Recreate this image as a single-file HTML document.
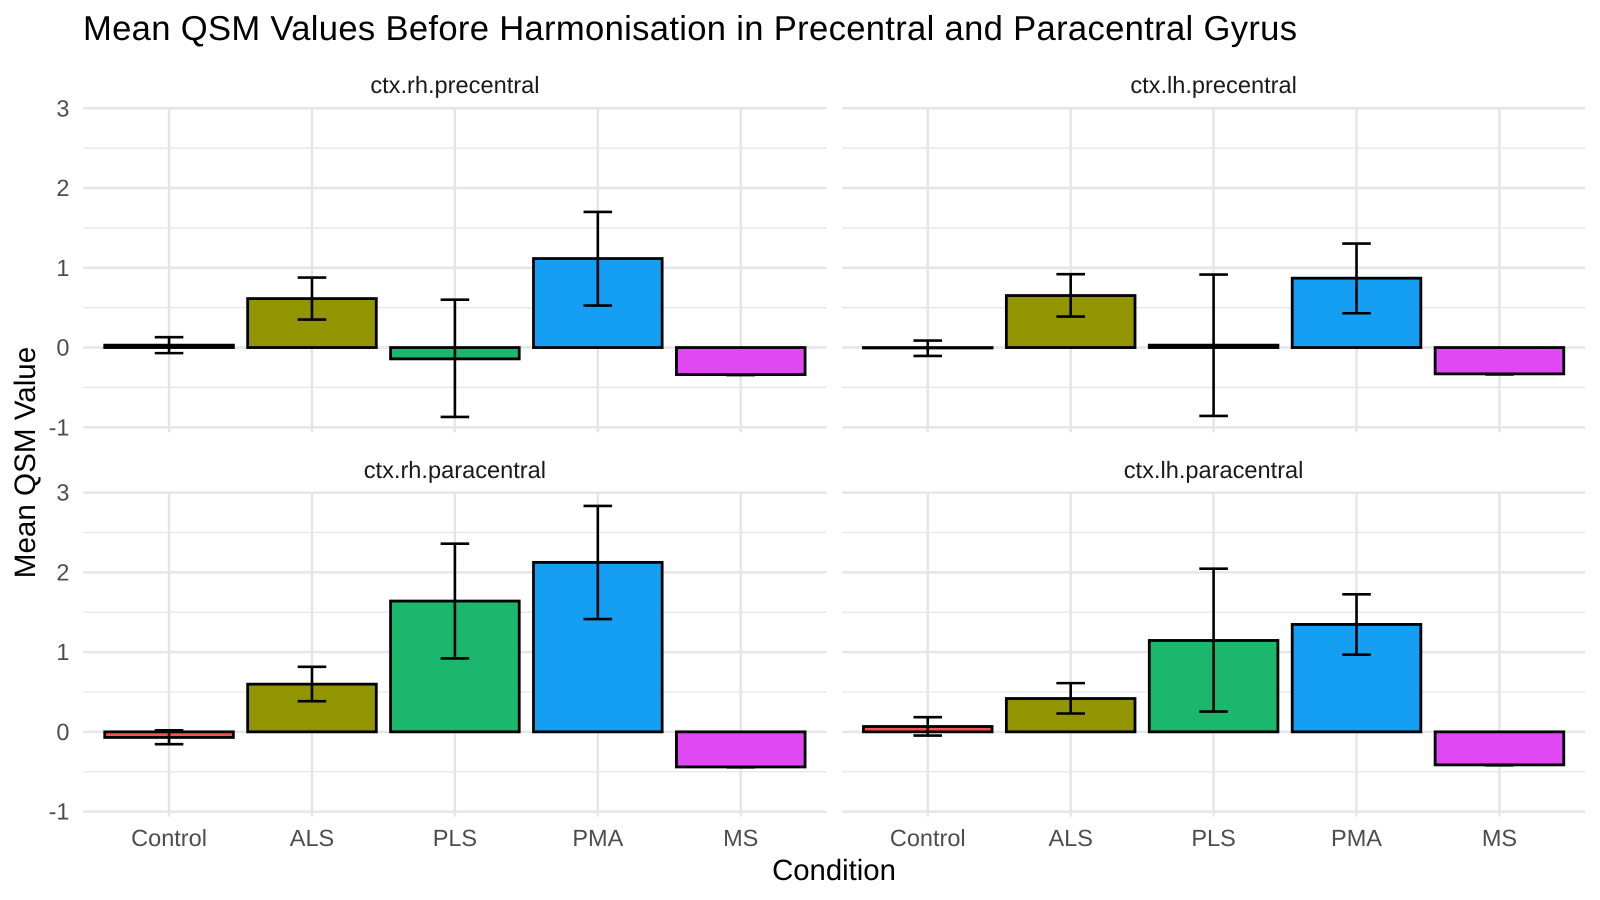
<!DOCTYPE html>
<html lang="en">
<head>
<meta charset="utf-8">
<title>Mean QSM Values Before Harmonisation</title>
<style>
html,body{margin:0;padding:0;background:#fff;}
body{width:1600px;height:900px;overflow:hidden;}
svg{display:block;font-family:"Liberation Sans",Arial,sans-serif;text-rendering:geometricPrecision;}
</style>
</head>
<body>
<svg id="chart" xmlns="http://www.w3.org/2000/svg" width="1600" height="900" viewBox="0 0 1600 900">
<rect x="0" y="0" width="1600" height="900" fill="#ffffff"/>
<text x="83" y="40" font-size="34.6" textLength="1214" lengthAdjust="spacing" fill="#000000">Mean QSM Values Before Harmonisation in Precentral and Paracentral Gyrus</text>
<text transform="translate(35,462.5) rotate(-90)" text-anchor="middle" font-size="29.6" fill="#000000">Mean QSM Value</text>
<text x="834" y="880" text-anchor="middle" font-size="29.3" fill="#000000">Condition</text>
</svg>
<script>
const categories = ["Control", "ALS", "PLS", "PMA", "MS"];
const yTicks = [-1, 0, 1, 2, 3];
const yMinorTicks = [-0.5, 0.5, 1.5, 2.5];
const barColors = ["#F8534F", "#929500", "#1AB76D", "#159FF3", "#E048F3"];

const panelTitles = ["ctx.rh.precentral", "ctx.lh.precentral", "ctx.rh.paracentral", "ctx.lh.paracentral"];

const rhPrecentralMean = [0.03, 0.614, -0.142, 1.116, -0.339];
const rhPrecentralLow = [-0.07, 0.351, -0.87, 0.527, -0.345];
const rhPrecentralHigh = [0.13, 0.878, 0.60, 1.70, -0.345];

const lhPrecentralMean = [-0.005, 0.652, 0.03, 0.87, -0.33];
const lhPrecentralLow = [-0.105, 0.389, -0.857, 0.43, -0.338];
const lhPrecentralHigh = [0.088, 0.92, 0.915, 1.304, -0.338];

const rhParacentralMean = [-0.07, 0.598, 1.64, 2.125, -0.44];
const rhParacentralLow = [-0.155, 0.385, 0.92, 1.414, -0.445];
const rhParacentralHigh = [0.02, 0.816, 2.36, 2.833, -0.445];

const lhParacentralMean = [0.067, 0.418, 1.146, 1.347, -0.414];
const lhParacentralLow = [-0.046, 0.23, 0.255, 0.967, -0.42];
const lhParacentralHigh = [0.184, 0.611, 2.046, 1.724, -0.42];

const panelMeans = [rhPrecentralMean, lhPrecentralMean, rhParacentralMean, lhParacentralMean];
const panelLows = [rhPrecentralLow, lhPrecentralLow, rhParacentralLow, lhParacentralLow];
const panelHighs = [rhPrecentralHigh, lhPrecentralHigh, rhParacentralHigh, lhParacentralHigh];

const svgNS = "http://www.w3.org/2000/svg";
const chart = document.getElementById("chart");

function make(tag, attrs) {
  const el = document.createElementNS(svgNS, tag);
  for (const k in attrs) el.setAttribute(k, attrs[k]);
  chart.appendChild(el);
  return el;
}

const columnLeft = [83.3, 842];
const rowTop = [108.3, 492.6];
const panelWidth = 743.2;
const panelHeight = 319;
const yMin = -1;
const yMax = 3;

panelTitles.forEach(function (title, p) {
  const col = p % 2;
  const row = Math.floor(p / 2);
  const left = columnLeft[col];
  const top = rowTop[row];
  const bottom = top + panelHeight;
  const step = panelWidth / (categories.length - 1 + 1.2);
  const xScale = function (i) { return left + (i + 0.6) * step; };
  const yScale = function (v) { return bottom - (v - yMin) / (yMax - yMin) * panelHeight; };

  yMinorTicks.forEach(function (v) {
    const line = make("line", { x1: left, x2: left + panelWidth, y1: yScale(v), y2: yScale(v), stroke: "#e6e6e6", "stroke-width": 1.3 });
    
    
  });
  yTicks.forEach(function (v) {
    const line = make("line", { x1: left, x2: left + panelWidth, y1: yScale(v), y2: yScale(v), stroke: "#e6e6e6", "stroke-width": 2.5 });
    
    
    if (col === 0) {
      const label = make("text", { x: 69.5, y: yScale(v) + 8, "text-anchor": "end", "font-size": 23.5, fill: "#4d4d4d" });
      label.textContent = String(v);
      
      
    }
  });
  categories.forEach(function (c, i) {
    const line = make("line", { x1: xScale(i), x2: xScale(i), y1: top, y2: bottom + 5, stroke: "#e6e6e6", "stroke-width": 2.5 });
    
    
    if (row === 1) {
      const label = make("text", { x: xScale(i), y: 846, "text-anchor": "middle", "font-size": 23.5, fill: "#4d4d4d" });
      label.textContent = c;
      
      
    }
  });

  const strip = make("text", { x: left + panelWidth / 2, y: top - 15.5 + row * 0.7, "text-anchor": "middle", "font-size": 23.6, fill: "#1a1a1a" });
  strip.textContent = title;
  
  

  const means = panelMeans[p];
  const lows = panelLows[p];
  const highs = panelHighs[p];
  const barWidth = 0.9 * step;
  const capWidth = 0.2 * step;

  categories.forEach(function (c, i) {
    const y0 = yScale(0);
    const ym = yScale(means[i]);
    const bar = make("rect", {
      x: xScale(i) - barWidth / 2,
      y: Math.min(y0, ym),
      width: barWidth,
      height: Math.abs(y0 - ym),
      fill: barColors[i],
      stroke: "#000000",
      "stroke-width": 2.8
    });
    
    
  });

  categories.forEach(function (c, i) {
    const x = xScale(i);
    const yl = yScale(lows[i]);
    const yh = yScale(highs[i]);
    const d = "M" + (x - capWidth / 2) + " " + yh + "H" + (x + capWidth / 2) +
      "M" + x + " " + yh + "V" + yl +
      "M" + (x - capWidth / 2) + " " + yl + "H" + (x + capWidth / 2);
    const err = make("path", { d: d, fill: "none", stroke: "#000000", "stroke-width": 2.6 });
    
    
  });
});
</script>
</body>
</html>
